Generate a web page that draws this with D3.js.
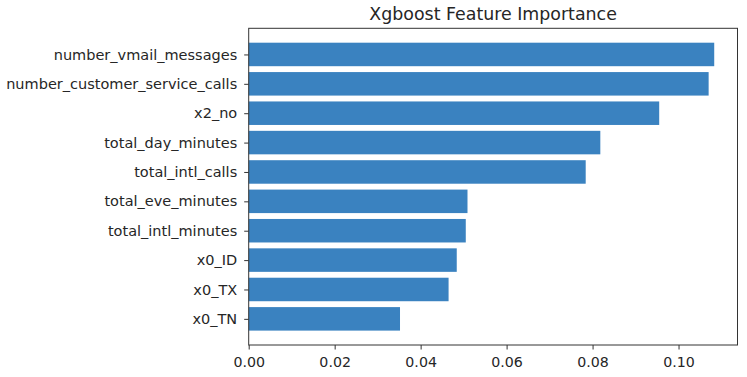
<!DOCTYPE html>
<html><head><meta charset="utf-8">
<script src="https://cdn.jsdelivr.net/npm/d3@7"></script>
<style>body{margin:0;background:#fff}svg{display:block}</style>
</head><body>
<svg id="c" width="747" height="377"></svg>
<script>
const features = ["x0_TN","x0_TX","x0_ID","total_intl_minutes","total_eve_minutes","total_intl_calls","total_day_minutes","x2_no","number_customer_service_calls","number_vmail_messages"];
const importance = [0.0352,0.0465,0.0484,0.0505,0.0509,0.0784,0.0818,0.0955,0.1070,0.1083];
const xTicks = [0,0.02,0.04,0.06,0.08,0.10];
const title = "Xgboost Feature Importance";

const svg = d3.select("#c");
const L = 248.7, R = 737.5, T = 28.3, B = 345;
const font = "DejaVu Sans, sans-serif";
const xmax = d3.max(importance) * 1.05;
const x = d3.scaleLinear().domain([0, xmax]).range([L, R]);
const n = features.length;
const pad = 0.4 + 0.05 * (n - 1 + 0.8);
const y = d3.scaleLinear().domain([-pad, n - 1 + pad]).range([B, T]);
const bh = 0.8 * (y(0) - y(1));

svg.append("g").selectAll("rect").data(features).join("rect")
  .attr("x", x(0))
  .attr("y", (d, i) => y(i) - bh / 2)
  .attr("width", (d, i) => x(importance[i]) - x(0))
  .attr("height", bh)
  .attr("fill", "#3a82c0");

const xa = svg.append("g").attr("transform", `translate(0,${B})`)
  .call(d3.axisBottom(x).tickValues(xTicks).tickFormat(d3.format(".2f")).tickSize(4.5).tickSizeOuter(0).tickPadding(7.5));
xa.select(".domain").remove();
xa.selectAll("text").attr("font-family", font).attr("font-size", 14.2).attr("fill", "#262626");
xa.selectAll("line").attr("stroke", "#333");

const ya = svg.append("g").attr("transform", `translate(${L},0)`)
  .call(d3.axisLeft(y).tickValues(d3.range(n)).tickFormat(i => features[i]).tickSize(4.5).tickSizeOuter(0).tickPadding(7));
ya.select(".domain").remove();
ya.selectAll("text").attr("font-family", font).attr("font-size", 14.5).attr("fill", "#262626");
ya.selectAll("line").attr("stroke", "#333");

svg.append("rect").attr("x", L).attr("y", T).attr("width", R - L).attr("height", B - T)
  .attr("fill", "none").attr("stroke", "#333").attr("stroke-width", 1);

svg.append("text").attr("x", (L + R) / 2).attr("y", 19.5).attr("text-anchor", "middle")
  .attr("font-family", font).attr("font-size", 17.4).attr("fill", "#262626").text(title);
</script>
</body></html>
